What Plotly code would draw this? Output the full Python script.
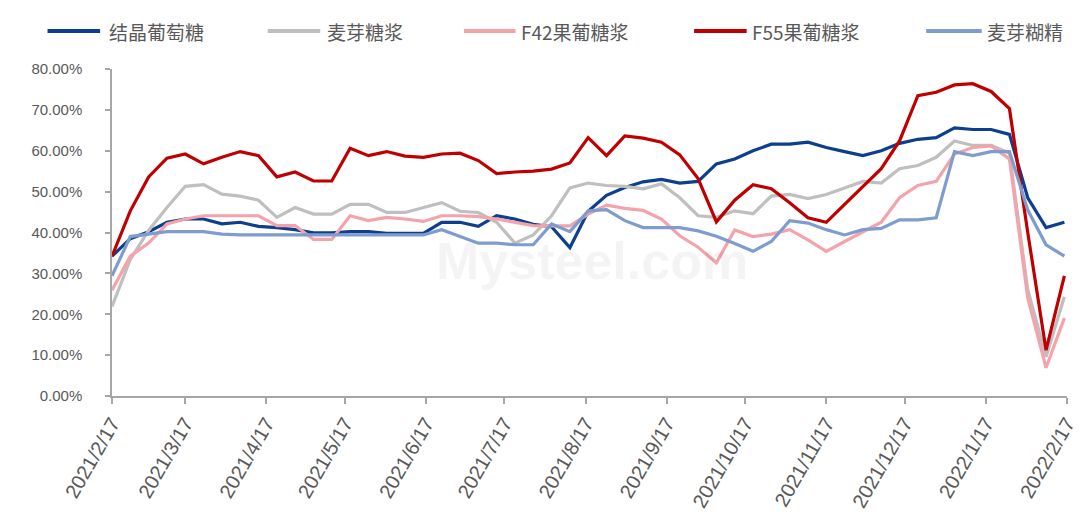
import plotly.graph_objects as go
import pandas as pd

# ---- data (percent) ----
dates = pd.date_range("2021-02-17", periods=53, freq="7D")

crystal_glucose = [34.2, 38.5, 40.2, 42.5, 43.3, 43.3, 42.1, 42.5, 41.5, 41.2, 40.7, 39.9, 39.9, 40.2, 40.2,
                   39.8, 39.8, 39.8, 42.5, 42.5, 41.5, 44.1, 43.3, 42.0, 41.4, 36.3, 45.2, 49.1, 51.0, 52.4,
                   53.0, 52.1, 52.5, 56.8, 58.0, 60.0, 61.6, 61.6, 62.1, 60.8, 59.8, 58.8, 60.0, 61.8, 62.8,
                   63.2, 65.6, 65.2, 65.2, 64.0, 48.5, 41.2, 42.5]
maltose_syrup = [21.9, 33.4, 40.5, 46.1, 51.3, 51.7, 49.4, 48.9, 47.9, 43.7, 46.1, 44.5, 44.5, 46.9, 46.9,
                 44.9, 44.9, 46.1, 47.3, 45.2, 44.9, 42.5, 37.4, 39.4, 44.1, 50.9, 52.1, 51.5, 51.3, 50.7,
                 51.9, 48.5, 44.1, 43.7, 45.3, 44.6, 48.9, 49.3, 48.3, 49.3, 51.0, 52.5, 52.1, 55.6, 56.4,
                 58.4, 62.4, 61.3, 61.3, 59.4, 26.0, 9.6, 24.3]
f42_hfcs = [25.9, 34.2, 37.4, 42.1, 43.3, 44.1, 44.1, 44.1, 44.1, 41.7, 41.7, 38.3, 38.3, 44.1, 42.9,
            43.7, 43.3, 42.7, 44.1, 44.1, 43.9, 43.3, 42.5, 41.7, 41.6, 41.6, 44.5, 46.7, 45.9, 45.4,
            43.3, 39.2, 36.4, 32.6, 40.6, 39.0, 39.6, 40.7, 38.2, 35.4, 37.8, 40.2, 42.5, 48.5, 51.5,
            52.5, 59.2, 60.8, 61.2, 58.0, 24.0, 6.9, 19.1]
f55_hfcs = [34.2, 45.3, 53.6, 58.2, 59.2, 56.8, 58.4, 59.8, 58.8, 53.6, 54.8, 52.6, 52.6, 60.6, 58.8,
            59.8, 58.7, 58.4, 59.2, 59.4, 57.6, 54.4, 54.8, 55.0, 55.5, 57.0, 63.2, 58.8, 63.6, 63.1,
            62.1, 59.0, 53.2, 42.6, 47.9, 51.7, 50.7, 47.3, 43.6, 42.5, 46.9, 51.3, 55.6, 62.4, 73.5,
            74.3, 76.1, 76.4, 74.5, 70.3, 40.0, 11.2, 29.4]
maltodextrin = [29.4, 39.0, 39.6, 40.2, 40.2, 40.2, 39.6, 39.4, 39.4, 39.4, 39.4, 39.4, 39.4, 39.4, 39.4,
                39.4, 39.4, 39.4, 40.7, 39.1, 37.4, 37.4, 37.0, 37.0, 42.1, 40.2, 45.3, 45.6, 42.9, 41.2,
                41.2, 41.2, 40.4, 39.1, 37.3, 35.4, 37.8, 42.9, 42.3, 40.7, 39.4, 40.7, 41.0, 43.1, 43.1,
                43.6, 59.8, 58.8, 59.8, 59.8, 45.5, 37.0, 34.2]

series_names = ["结晶葡萄糖", "麦芽糖浆", "F42果葡糖浆", "F55果葡糖浆", "麦芽糊精"]
series_values = [crystal_glucose, maltose_syrup, f42_hfcs, f55_hfcs, maltodextrin]
series_colors = ["#0D3F8F", "#BFBFBF", "#F4A3AB", "#C00000", "#7F9CCF"]

tick_dates = ["2021-02-17", "2021-03-17", "2021-04-17", "2021-05-17", "2021-06-17", "2021-07-17",
              "2021-08-17", "2021-09-17", "2021-10-17", "2021-11-17", "2021-12-17", "2022-01-17",
              "2022-02-17"]
tick_labels = ["2021/2/17", "2021/3/17", "2021/4/17", "2021/5/17", "2021/6/17", "2021/7/17",
               "2021/8/17", "2021/9/17", "2021/10/17", "2021/11/17", "2021/12/17", "2022/1/17",
               "2022/2/17"]

# ---- layout geometry ----
W, H = 1083, 515
L, R, T, B = 104, 1067, 61, 397

def px_x(px):
    return (px - L) / (R - L)

def px_y(py):
    return (B - py) / (B - T)

fig = go.Figure()
for name, vals, col in zip(series_names, series_values, series_colors):
    fig.add_trace(go.Scatter(
        x=dates, y=[v / 100 for v in vals], mode="lines", name=name,
        line=dict(color=col, width=3.2), showlegend=False,
    ))

# manual legend
leg_y = 22
leg_items = [(39, 92, 99), (261, 314, 319), (459, 511, 514), (691, 744, 747), (925, 981, 984)]
shapes = []
annotations = []
for (x0, x1, tx), name, col in zip(leg_items, series_names, series_colors):
    shapes.append(dict(type="line", xref="paper", yref="paper",
                       x0=px_x(x0), x1=px_x(x1), y0=px_y(leg_y), y1=px_y(leg_y),
                       line=dict(color=col, width=4)))
    annotations.append(dict(xref="paper", yref="paper", x=px_x(tx), y=px_y(leg_y),
                            xanchor="left", yanchor="middle", text=name, showarrow=False,
                            font=dict(family="Noto Sans CJK SC", size=19, color="#595959")))

# faint watermark
annotations.append(dict(xref="paper", yref="paper", x=px_x(588), y=px_y(258), text="<b>Mysteel.com</b>",
                        showarrow=False, xanchor="center", yanchor="middle",
                        font=dict(family="Liberation Sans", size=52, color="rgba(0,0,0,0.045)")))

fig.update_layout(
    width=W, height=H,
    margin=dict(l=L, r=W - R, t=T, b=H - B),
    plot_bgcolor="white", paper_bgcolor="white",
    shapes=shapes, annotations=annotations,
    showlegend=False,
)
fig.update_xaxes(
    type="date", range=["2021-02-17", "2022-02-17"],
    tickvals=tick_dates, ticktext=tick_labels, tickangle=-60,
    showgrid=False, zeroline=False, showline=True, linecolor="#A6A6A6", linewidth=1.5,
    ticks="outside", ticklen=6, tickcolor="#A6A6A6", tickwidth=1.5,
    tickfont=dict(family="Liberation Sans", size=20, color="#595959"),
)
fig.update_yaxes(
    range=[0, 0.8], dtick=0.1, tickformat=".2%",
    showgrid=False, zeroline=False, showline=True, linecolor="#A6A6A6", linewidth=1.5,
    ticks="outside", ticklen=5, tickcolor="#A6A6A6", tickwidth=1.5, ticklabelstandoff=20,
    tickfont=dict(family="Liberation Sans", size=15, color="#595959"),
)

fig.write_html("out.html")
